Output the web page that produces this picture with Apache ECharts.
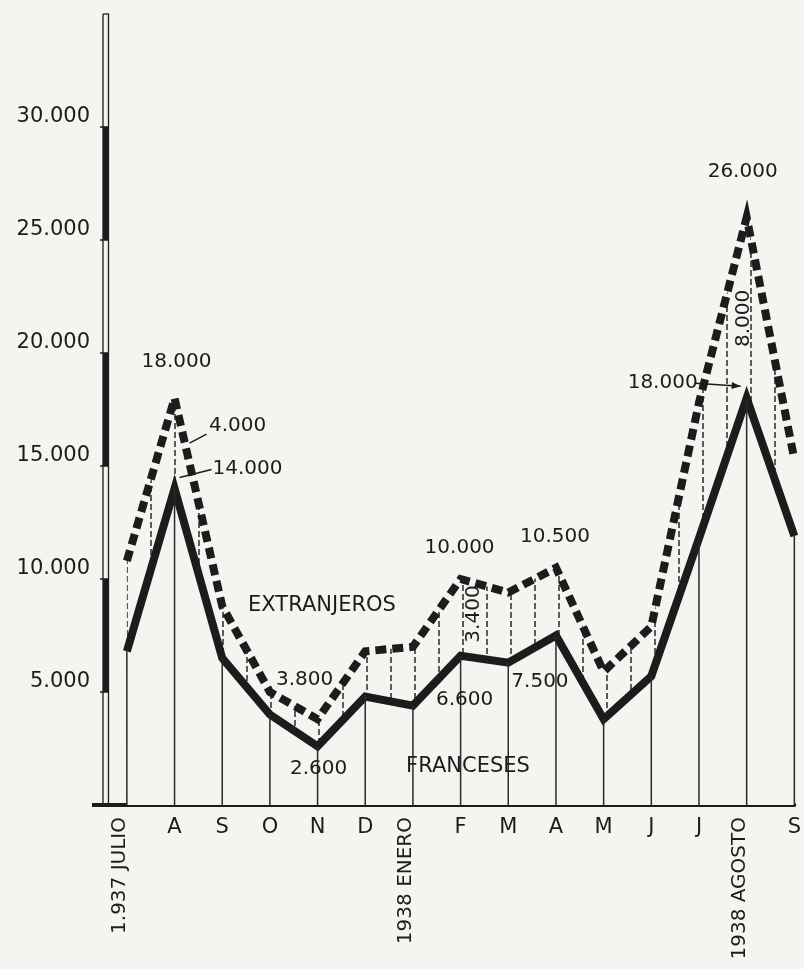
<!DOCTYPE html>
<html>
<head>
<meta charset="utf-8">
<title>Franceses y extranjeros 1937-1938</title>
<script src="https://cdn.jsdelivr.net/npm/echarts@6/dist/echarts.min.js"></script>
<style>
  html, body { margin: 0; padding: 0; background: #f4f4f1; }
  #chart { width: 804px; height: 969px; }
</style>
</head>
<body>
<div id="chart"></div>
<script>
  // meses del eje x
  const months = ['1.937 JULIO', 'A', 'S', 'O', 'N', 'D', '1938 ENERO', 'F', 'M', 'A', 'M', 'J', 'J', '1938 AGOSTO', 'S'];
  // franceses (linea continua)
  const franceses = [6800, 14000, 6500, 4000, 2600, 4800, 4400, 6600, 6300, 7500, 3800, 5700, 11800, 18000, 11900];
  // extranjeros (lo que hay entre la linea continua y la de trazos)
  const extranjeros = [4000, 4000, 2300, 1000, 1200, 2000, 2600, 3400, 3100, 3000, 2100, 2200, 6000, 8000, 3400];
  // eje y
  const yTicks = [5000, 10000, 15000, 20000, 25000, 30000];
  const yBands = [[5000, 10000], [15000, 20000], [25000, 30000]];

  const totals = franceses.map((v, i) => v + extranjeros[i]);
  const idx = months.map((m, i) => i);
  const longIdx = [0, 6, 13];
  const shortIdx = idx.filter(i => longIdx.indexOf(i) < 0);

  const ink = '#1c1c1c';
  const bg = '#f4f4f1';
  const font = '"DejaVu Sans", sans-serif';
  const xMin = -19 / 48, yMax = 35000;
  const shift = 7 / 48; // los rotulos girados van un poco a la izquierda del mes

  const fmt = v => Math.floor(v / 1000) + '.' + String(v % 1000).padStart(3, '0');

  // rayado vertical discontinuo entre las dos lineas (cada medio mes)
  const pat = document.createElement('canvas');
  pat.width = 24; pat.height = 9;
  const pc = pat.getContext('2d');
  pc.fillStyle = bg;
  pc.fillRect(0, 0, 24, 9);
  pc.fillStyle = '#2a2a2a';
  pc.fillRect(6.25, 0, 1.5, 6);

  const chart = echarts.init(document.getElementById('chart'));
  const option = {
    backgroundColor: bg,
    animation: false,
    grid: { left: 108, right: 5, top: 14, bottom: 164 },
    xAxis: [{
      type: 'value', min: xMin, max: 14, position: 'bottom',
      axisLine: { lineStyle: { color: ink, width: 4 } },
      axisTick: { show: false },
      splitLine: { show: false },
      axisLabel: {
        customValues: shortIdx,
        formatter: v => months[v],
        color: ink, fontFamily: font, fontSize: 21, margin: 12
      }
    }, {
      type: 'value', min: xMin + shift, max: 14 + shift, position: 'bottom',
      axisLine: { show: false },
      axisTick: { show: false },
      splitLine: { show: false },
      axisLabel: {
        customValues: longIdx,
        formatter: v => months[v],
        rotate: 90,
        color: ink, fontFamily: font, fontSize: 20, margin: 12
      }
    }],
    yAxis: {
      type: 'value', min: 0, max: yMax, interval: 5000,
      axisLine: { show: true, onZero: false, lineStyle: { color: ink, width: 1.3 } },
      axisTick: { show: true, customValues: yTicks, length: 8, lineStyle: { color: ink, width: 1.5 } },
      splitLine: { show: false },
      axisLabel: {
        customValues: yTicks,
        formatter: fmt,
        verticalAlign: 'bottom',
        color: ink, fontFamily: font, fontSize: 21, margin: 18
      }
    },
    series: [{
      // total: solo el rayado bajo la linea de trazos
      type: 'line',
      data: totals.map((v, i) => [i, v]),
      showSymbol: false,
      lineStyle: { width: 0 },
      areaStyle: { color: { image: pat, repeat: 'repeat' }, opacity: 1 },
      silent: true, z: 1
    }, {
      name: 'FRANCESES',
      type: 'line',
      data: franceses.map((v, i) => [i, v]),
      showSymbol: false,
      lineStyle: { color: ink, width: 8, join: 'miter' },
      areaStyle: { color: bg, opacity: 1 },
      silent: true, z: 2
    }, {
      type: 'bar',
      data: franceses.map((v, i) => [i, v]),
      barWidth: 1.5,
      itemStyle: { color: '#2a2a2a' },
      silent: true, z: 3
    }, {
      name: 'EXTRANJEROS',
      type: 'line',
      data: totals.map((v, i) => [i, v]),
      showSymbol: false,
      lineStyle: { color: ink, width: 8, type: [11, 6], cap: 'butt', join: 'miter' },
      silent: true, z: 4
    }]
  };
  chart.setOption(option);

  // cifras escritas sobre el grafico
  const notes = [
    { i: 1, of: 'total', dx: 2, dy: -36 },
    { i: 1, of: 'ext', dx: 63, dy: 28, lead: [15, 45, 32, 36] },
    { i: 1, of: 'fr', dx: 73, dy: -20, lead: [5, -11, 37, -19] },
    { i: 4, of: 'total', dx: -13, dy: -39 },
    { i: 4, of: 'fr', dx: 1, dy: 23 },
    { i: 7, of: 'total', dx: -1, dy: -31 },
    { i: 7, of: 'ext', dx: 13, dy: 35, rot: 90 },
    { i: 7, of: 'fr', dx: 4, dy: 44 },
    { i: 9, of: 'total', dx: -1, dy: -31 },
    { i: 9, of: 'fr', dx: -16, dy: 46 },
    { i: 13, of: 'total', dx: -4, dy: -46 },
    { i: 13, of: 'ext', dx: -3, dy: 101, rot: 90 },
    { i: 13, of: 'fr', dx: -84, dy: -15, arrow: [-51, -15, -6, -12] }
  ];

  const px = (x, y) => chart.convertToPixel({ xAxisIndex: 0, yAxisIndex: 0 }, [x, y]);
  const g = [];
  const xl = px(xMin, 0)[0];
  const y0 = px(0, 0)[1];
  const yTop = px(0, yMax)[1];

  // eje y doble con tramos rellenos
  g.push({ type: 'line', shape: { x1: xl - 5, y1: yTop, x2: xl - 5, y2: y0 }, style: { stroke: ink, lineWidth: 1.3 } });
  g.push({ type: 'line', shape: { x1: xl - 5, y1: yTop, x2: xl, y2: yTop }, style: { stroke: ink, lineWidth: 1.3 } });
  yBands.forEach(b => {
    const ya = px(0, b[1])[1], yb = px(0, b[0])[1];
    g.push({ type: 'rect', shape: { x: xl - 5, y: ya, width: 5, height: yb - ya }, style: { fill: ink } });
  });
  g.push({ type: 'line', shape: { x1: xl - 16, y1: y0, x2: xl, y2: y0 }, style: { stroke: ink, lineWidth: 4 } });

  notes.forEach(n => {
    const v = n.of === 'fr' ? franceses[n.i] : totals[n.i];
    const val = n.of === 'fr' ? franceses[n.i] : (n.of === 'ext' ? extranjeros[n.i] : totals[n.i]);
    const p = px(n.i, v);
    g.push({
      type: 'text', x: p[0] + n.dx, y: p[1] + n.dy,
      rotation: n.rot ? n.rot * Math.PI / 180 : 0,
      style: { text: fmt(val), fill: ink, fontFamily: font, fontSize: 20, align: 'center', verticalAlign: 'middle' },
      z: 20
    });
    const l = n.lead || n.arrow;
    if (l) {
      g.push({ type: 'line', shape: { x1: p[0] + l[0], y1: p[1] + l[1], x2: p[0] + l[2], y2: p[1] + l[3] }, style: { stroke: ink, lineWidth: 1.5 }, z: 20 });
    }
    if (n.arrow) {
      const ex = p[0] + l[2], ey = p[1] + l[3];
      const dx = l[2] - l[0], dy = l[3] - l[1], d = Math.sqrt(dx * dx + dy * dy);
      const ux = dx / d, uy = dy / d;
      g.push({ type: 'polygon', shape: { points: [[ex, ey], [ex - 9 * ux - 3.5 * uy, ey - 9 * uy + 3.5 * ux], [ex - 9 * ux + 3.5 * uy, ey - 9 * uy - 3.5 * ux]] }, style: { fill: ink }, z: 20 });
    }
  });

  // nombres de las series
  g.push({ type: 'text', x: 322, y: 606, style: { text: 'EXTRANJEROS', fill: ink, fontFamily: font, fontSize: 21, align: 'center', verticalAlign: 'middle' }, z: 20 });
  g.push({ type: 'text', x: 468, y: 767, style: { text: 'FRANCESES', fill: ink, fontFamily: font, fontSize: 21, align: 'center', verticalAlign: 'middle' }, z: 20 });

  chart.setOption({ graphic: g.map(e => Object.assign({ silent: true }, e)) });
</script>
</body>
</html>
